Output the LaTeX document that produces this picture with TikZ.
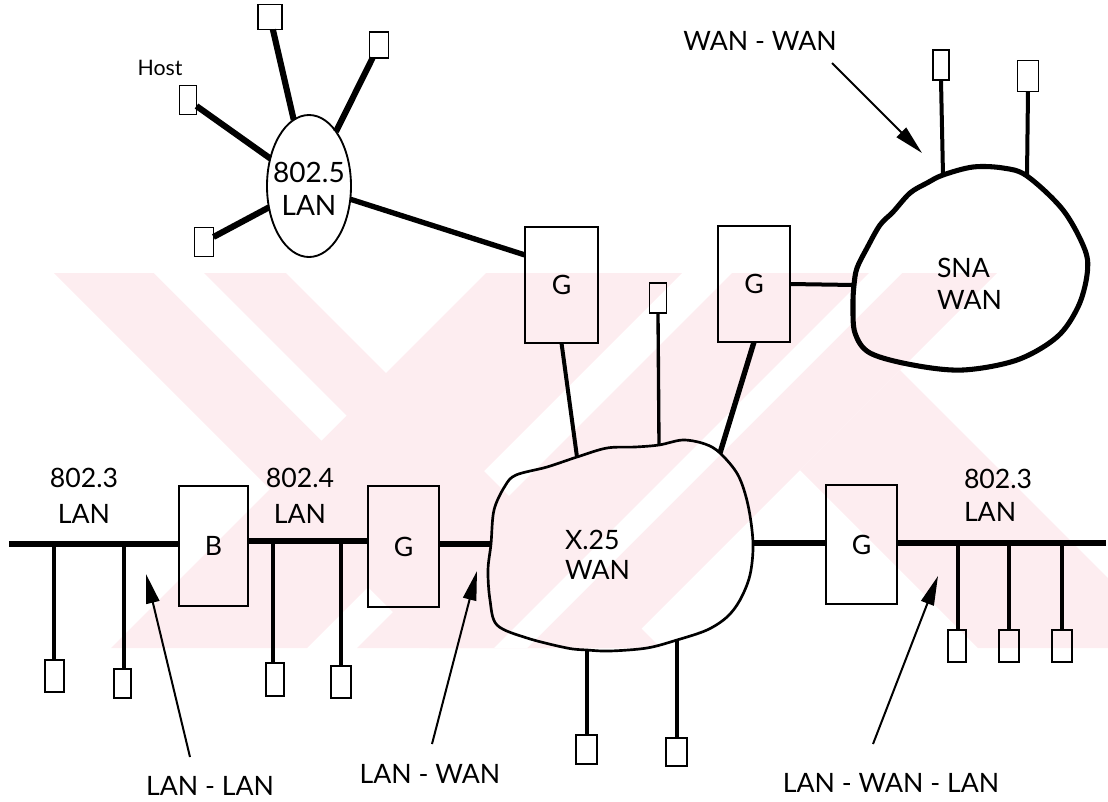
\documentclass[tikz,border=0pt]{standalone}
\usepackage{fontspec}
\setmainfont{Lato}
\usetikzlibrary{arrows.meta,shapes.geometric}
\definecolor{wm}{RGB}{253,237,240}
\begin{document}
\begin{tikzpicture}[x=0.75pt,y=-0.75pt,
  every node/.style={inner sep=0pt,outer sep=0pt},
  term/.style={draw,line width=1.4pt,inner sep=0pt},
  dev/.style={draw,line width=1.8pt,inner sep=0pt,font=\fontsize{20}{24}\selectfont},
  lbl/.style={inner sep=0pt,font=\fontsize{20}{27}\selectfont},
  bus/.style={line width=4.2pt},
  drop/.style={line width=2.8pt},
  spoke/.style={line width=4.6pt},
  link/.style={line width=3pt},
  callout/.style={line width=1.5pt,-{Triangle[length=22pt,width=10pt]}},
  cloudline/.style={line width=2pt,line join=round},
  snaline/.style={line width=3.8pt,line join=round}
]
\useasboundingbox (0,0) rectangle (1108,801);

% faint background watermark
\begin{scope}
\clip (54,273) rectangle (1108,648);
\fill[wm] (54,273) -- (286,273) -- (661,648) -- (429,648) -- cycle;
\fill[wm] (486,273) -- (682,273) -- (307,648) -- (111,648) -- cycle;
\fill[wm] (732,273) -- (997,273) -- (622,648) -- (357,648) -- cycle;
\fill[wm] (800,470) -- (900,370) -- (1178,648) -- (978,648) -- cycle;
\fill[white] (154,273) -- (204,273) -- (346.5,415.5) -- (321.5,440.5) -- cycle;
\fill[white] (869,273) -- (902,273) -- (527,648) -- (494,648) -- cycle;
\end{scope}

% ---------- 802.5 LAN ----------
\node[draw,ellipse,line width=1.4pt,minimum width=63pt,minimum height=106.5pt] (e5) at (309,186) {};
\node[lbl,align=center,font=\fontsize{21}{24.75}\selectfont] (e5t) at (309,189) {802.5\\LAN};
\node[term,minimum width=18pt,minimum height=18.75pt] (h1) at (270,17) {};
\node[term,minimum width=14.25pt,minimum height=19.5pt] (h2) at (379,45) {};
\node[term,minimum width=12.75pt,minimum height=21.75pt] (h3) at (188,100) {};
\node[term,minimum width=14.25pt,minimum height=21.75pt] (h4) at (204,242) {};
\node[anchor=base,font=\fontsize{16}{19}\selectfont] (hostl) at (160,75) {Host};
\draw[spoke] (h1) -- (e5);
\draw[spoke] (h2) -- (e5);
\draw[spoke] (h3) -- (e5);
\draw[spoke] (h4) -- (e5);

% ---------- gateways above X.25 ----------
\node[dev,minimum width=54.75pt,minimum height=87pt] (g1) at (561.5,285) {G};
\node[dev,minimum width=54pt,minimum height=87pt] (g2) at (754,284) {G};
\node[term,minimum width=12.75pt,minimum height=22.5pt] (s1) at (658,298) {};
\draw[line width=4pt] (e5) -- ([yshift=22.5pt]g1.west);

% ---------- SNA WAN ----------
\draw[snaline] plot[smooth cycle,tension=0.55] coordinates {
 (943,175) (973,167) (1003,168) (1027,176) (1063,210) (1085,250) (1087,275)
 (1078,307) (1057,337) (1017,360) (963,370) (913,365) (870,353) (855,333)
 (853,305) (854,285) (857,268) (867,248) (880,225) (893,212) (910,193) (927,183)};
\coordinate (snt1) at (943,175);
\coordinate (snt2) at (1027,176);
\coordinate (snw) at (854,285);
\node[lbl,align=left,anchor=west,font=\fontsize{20}{24}\selectfont] (lsna) at (937,284) {SNA\\WAN};
\node[term,minimum width=12pt,minimum height=22.5pt] (sn1) at (941,65) {};
\node[term,minimum width=15.75pt,minimum height=23.25pt] (sn2) at (1028,76) {};
\draw[link] (sn1.south) -- (snt1);
\draw[link] (sn2.south) -- (snt2);
\draw[link] (g2.east) -- (snw);
\node[lbl,anchor=base] (lww) at (760,50) {WAN - WAN};
\coordinate (aWWs) at (832,63);
\coordinate (aWWe) at (922,153);
\draw[callout] (aWWs) -- (aWWe);

% ---------- X.25 WAN ----------
\draw[cloudline] plot[smooth cycle,tension=0.55] coordinates {
 (491,544) (494,510) (505,486) (516,475) (547,467) (577,457) (607,448) (635,447)
 (659,445) (683,440) (705,444) (720,453) (738,475) (748,505) (753,543) (750,575)
 (740,600) (727,617) (707,630) (677,640) (647,648) (610,651) (587,650) (567,648)
 (527,638) (497,625) (490,600) (488,570)};
\coordinate (x25a) at (577,457);
\coordinate (x25b) at (659,445);
\coordinate (x25c) at (720,453);
\coordinate (x25w) at (491,544);
\coordinate (x25e) at (753,543);
\coordinate (x25s1) at (587,650);
\coordinate (x25s2) at (677,640);
\node[lbl,align=left,anchor=west,font=\fontsize{20}{22.5}\selectfont] (lx25) at (565,555) {X.25\\WAN};
\draw[link] (g1.south) -- (x25a);
\draw[line width=2.5pt] (s1.south) -- (x25b);
\draw[line width=4pt] (g2.south) -- (x25c);
\node[term,minimum width=15.75pt,minimum height=21.75pt] (x1) at (586.5,749.5) {};
\node[term,minimum width=15.75pt,minimum height=21pt] (x2) at (676.5,752) {};
\draw[link] (x25s1) -- (x25s1 |- x1.north);
\draw[link] (x25s2) -- (x25s2 |- x2.north);

% ---------- bottom LANs ----------
\node[dev,minimum width=51.75pt,minimum height=90pt] (b) at (213.5,546) {B};
\node[dev,minimum width=53.25pt,minimum height=90.75pt] (g3) at (403.5,546.5) {G};
\node[dev,minimum width=53.25pt,minimum height=89.25pt] (g4) at (861.5,544.5) {G};
\coordinate (bL) at (9,544);
\coordinate (bR) at (1106,543);
\coordinate (t1) at (54,544);
\coordinate (t2) at (124,544);
\coordinate (t3) at (273,541);
\coordinate (t4) at (341,541);
\coordinate (t5) at (958,543);
\coordinate (t6) at (1009,543);
\coordinate (t7) at (1062,543);
\draw[bus] (bL) -- (bL -| b.west);
\draw[bus] (b.east |- t3) -- (g3.west |- t3);
\draw[bus] (g3.east |- x25w) -- (x25w);
\draw[bus] (x25e) -- (x25e -| g4.west);
\draw[bus] (g4.east |- bR) -- (bR);

\node[term,minimum width=14.25pt,minimum height=24pt] (d1) at (54.5,676) {};
\node[term,minimum width=12.75pt,minimum height=21.75pt] (d2) at (122.5,683.5) {};
\node[term,minimum width=13.5pt,minimum height=24.75pt] (d3) at (275,679.5) {};
\node[term,minimum width=15pt,minimum height=24pt] (d4) at (341,682) {};
\node[term,minimum width=13.5pt,minimum height=24pt] (r1) at (957,646) {};
\node[term,minimum width=15pt,minimum height=24pt] (r2) at (1009,646) {};
\node[term,minimum width=15pt,minimum height=24pt] (r3) at (1062,646) {};
\draw[drop] (t1) -- (t1 |- d1.north);
\draw[drop] (t2) -- (t2 |- d2.north);
\draw[drop] (t3) -- (t3 |- d3.north);
\draw[drop] (t4) -- (t4 |- d4.north);
\draw[drop] (t5) -- (t5 |- r1.north);
\draw[drop] (t6) -- (t6 |- r2.north);
\draw[drop] (t7) -- (t7 |- r3.north);

\node[lbl,align=center] (l8023a) at (84,496) {802.3\\LAN};
\node[lbl,align=center] (l8024) at (300,496) {802.4\\LAN};
\node[lbl,align=left,anchor=west,font=\fontsize{20}{24.75}\selectfont] (l8023b) at (964,495) {802.3\\LAN};

% ---------- callouts ----------
\node[lbl,anchor=base] (lll) at (210,795) {LAN - LAN};
\node[lbl,anchor=base] (llw) at (430,783) {LAN - WAN};
\node[lbl,anchor=base] (llwl) at (891,792) {LAN - WAN - LAN};
\coordinate (aLLs) at (190,757);
\coordinate (aLLe) at (146,574);
\coordinate (aLWs) at (432,744);
\coordinate (aLWe) at (477,571);
\coordinate (aLWLs) at (873,744);
\coordinate (aLWLe) at (938,576);
\draw[callout] (aLLs) -- (aLLe);
\draw[callout] (aLWs) -- (aLWe);
\draw[callout] (aLWLs) -- (aLWLe);
\end{tikzpicture}
\end{document}
